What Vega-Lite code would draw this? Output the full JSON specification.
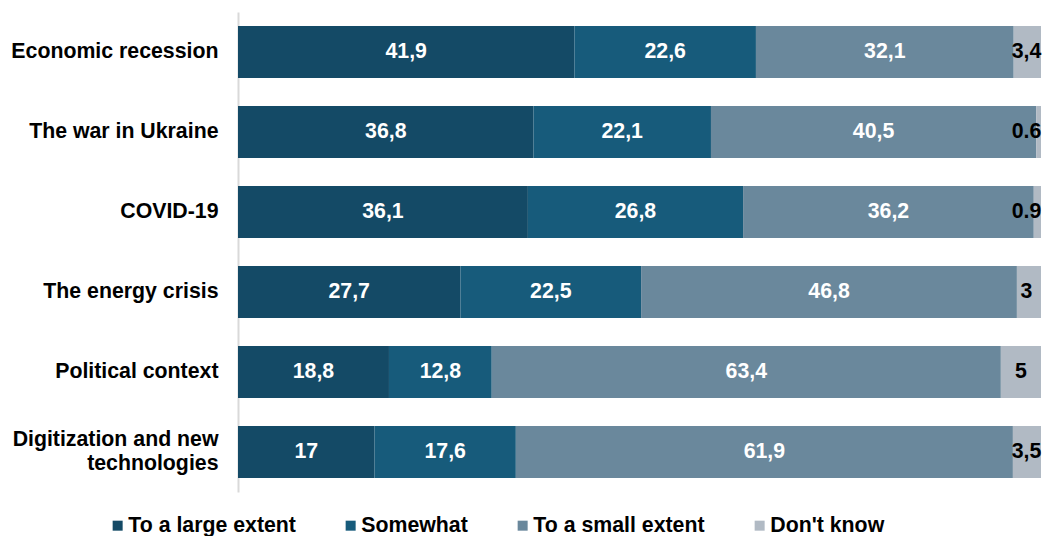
{
  "$schema": "https://vega.github.io/schema/vega-lite/v6.json",
  "width": 803,
  "height": 480,
  "autosize": "none",
  "padding": {"left": 238, "top": 12, "right": 7, "bottom": 44},
  "background": "#ffffff",
  "data": {
    "values": [
      {"cat": "Economic recession", "resp": "To a large extent", "k": 1, "v": 41.9, "lab": "41,9"},
      {"cat": "Economic recession", "resp": "Somewhat", "k": 2, "v": 22.6, "lab": "22,6"},
      {"cat": "Economic recession", "resp": "To a small extent", "k": 3, "v": 32.1, "lab": "32,1"},
      {"cat": "Economic recession", "resp": "Don't know", "k": 4, "v": 3.4, "lab": "3,4"},
      {"cat": "The war in Ukraine", "resp": "To a large extent", "k": 1, "v": 36.8, "lab": "36,8"},
      {"cat": "The war in Ukraine", "resp": "Somewhat", "k": 2, "v": 22.1, "lab": "22,1"},
      {"cat": "The war in Ukraine", "resp": "To a small extent", "k": 3, "v": 40.5, "lab": "40,5"},
      {"cat": "The war in Ukraine", "resp": "Don't know", "k": 4, "v": 0.6, "lab": "0.6"},
      {"cat": "COVID-19", "resp": "To a large extent", "k": 1, "v": 36.1, "lab": "36,1"},
      {"cat": "COVID-19", "resp": "Somewhat", "k": 2, "v": 26.8, "lab": "26,8"},
      {"cat": "COVID-19", "resp": "To a small extent", "k": 3, "v": 36.2, "lab": "36,2"},
      {"cat": "COVID-19", "resp": "Don't know", "k": 4, "v": 0.9, "lab": "0.9"},
      {"cat": "The energy crisis", "resp": "To a large extent", "k": 1, "v": 27.7, "lab": "27,7"},
      {"cat": "The energy crisis", "resp": "Somewhat", "k": 2, "v": 22.5, "lab": "22,5"},
      {"cat": "The energy crisis", "resp": "To a small extent", "k": 3, "v": 46.8, "lab": "46,8"},
      {"cat": "The energy crisis", "resp": "Don't know", "k": 4, "v": 3, "lab": "3"},
      {"cat": "Political context", "resp": "To a large extent", "k": 1, "v": 18.8, "lab": "18,8"},
      {"cat": "Political context", "resp": "Somewhat", "k": 2, "v": 12.8, "lab": "12,8"},
      {"cat": "Political context", "resp": "To a small extent", "k": 3, "v": 63.4, "lab": "63,4"},
      {"cat": "Political context", "resp": "Don't know", "k": 4, "v": 5, "lab": "5"},
      {"cat": "Digitization and new technologies", "resp": "To a large extent", "k": 1, "v": 17, "lab": "17"},
      {"cat": "Digitization and new technologies", "resp": "Somewhat", "k": 2, "v": 17.6, "lab": "17,6"},
      {"cat": "Digitization and new technologies", "resp": "To a small extent", "k": 3, "v": 61.9, "lab": "61,9"},
      {"cat": "Digitization and new technologies", "resp": "Don't know", "k": 4, "v": 3.5, "lab": "3,5"}
    ]
  },
  "transform": [
    {"stack": "v", "groupby": ["cat"], "sort": [{"field": "k", "order": "ascending"}], "as": ["x0", "x1"]},
    {"calculate": "min((datum.x0 + datum.x1) / 2, 98.2)", "as": "mid"}
  ],
  "encoding": {
    "y": {
      "field": "cat",
      "type": "nominal",
      "sort": ["Economic recession", "The war in Ukraine", "COVID-19", "The energy crisis", "Political context", "Digitization and new technologies"],
      "scale": {"paddingInner": 0.35, "paddingOuter": 0.175},
      "title": null,
      "axis": {
        "ticks": false,
        "labelFont": "Liberation Sans",
        "labelFontWeight": "bold",
        "labelFontSize": 21.3,
        "labelColor": "#000000",
        "labelPadding": 20,
        "labelLimit": 300,
        "labelLineHeight": 24,
        "labelOffset": {"condition": {"test": "datum.value == 'Digitization and new technologies'", "value": -12}, "value": 0},
        "labelExpr": "datum.label == 'Digitization and new technologies' ? ['Digitization and new', 'technologies'] : datum.label",
        "domainColor": "#d9d9d9",
        "domainWidth": 2,
        "grid": false
      }
    }
  },
  "layer": [
    {
      "mark": {"type": "bar"},
      "encoding": {
        "x": {"field": "x0", "type": "quantitative", "scale": {"domain": [0, 100], "nice": false, "zero": true}, "axis": null},
        "x2": {"field": "x1"},
        "color": {
          "field": "resp",
          "type": "nominal",
          "scale": {
            "domain": ["To a large extent", "Somewhat", "To a small extent", "Don't know"],
            "range": ["#144A66", "#175B7B", "#6A889C", "#B1BAC4"]
          },
          "legend": {
            "title": null,
            "orient": "none",
            "direction": "horizontal",
            "legendX": -131,
            "legendY": 503,
            "symbolType": "square",
            "symbolSize": 100,
            "symbolStrokeWidth": 0,
            "labelFont": "Liberation Sans",
            "labelFontWeight": "bold",
            "labelFontSize": 21.3,
            "labelColor": "#000000",
            "labelOffset": 0,
            "labelLimit": 300,
            "columnPadding": 44
          }
        }
      }
    },
    {
      "mark": {"type": "text", "font": "Liberation Sans", "fontWeight": "bold", "fontSize": 21.3, "baseline": "middle", "align": "center"},
      "encoding": {
        "x": {"field": "mid", "type": "quantitative"},
        "text": {"field": "lab"},
        "color": {
          "condition": {"test": "datum.resp == \"Don't know\"", "value": "#000000"},
          "value": "#ffffff"
        }
      }
    }
  ],
  "config": {"view": {"stroke": null}}
}
